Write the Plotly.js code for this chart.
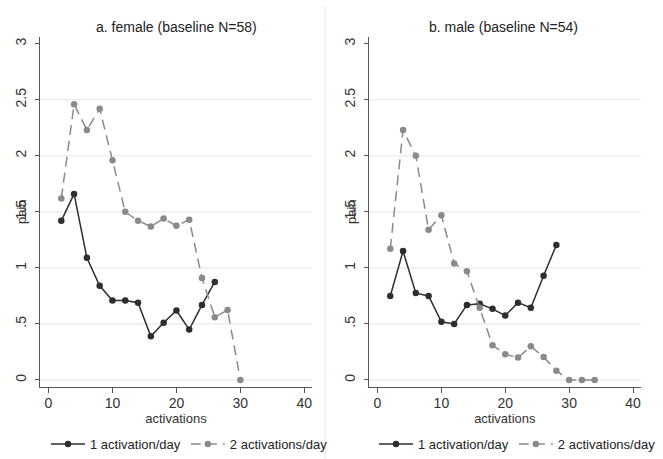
<!DOCTYPE html>
<html>
<head>
<meta charset="utf-8">
<script src="https://cdn.plot.ly/plotly-3.0.1.min.js"></script>
<style>html,body{margin:0;padding:0;background:#fff;}#chart{width:663px;height:459px;}</style>
</head>
<body>
<div id="chart"></div>
<script>
// ---- data ----
const activations = [2,4,6,8,10,12,14,16,18,20,22,24,26,28,30,32,34];

const femaleOnce = [1.42,1.66,1.09,0.84,0.71,0.71,0.69,0.39,0.51,0.62,0.45,0.67,0.875];
const femaleTwice = [1.62,2.46,2.23,2.42,1.96,1.50,1.42,1.37,1.44,1.375,1.43,0.91,0.56,0.625,0];
const maleOnce = [0.75,1.15,0.775,0.75,0.52,0.50,0.67,0.68,0.635,0.575,0.69,0.645,0.93,1.205];
const maleTwice = [1.17,2.23,2.0,1.34,1.47,1.04,0.97,0.645,0.31,0.23,0.20,0.30,0.205,0.083,0,0,0];

const seriesNames = ['1 activation/day', '2 activations/day'];
const panelTitles = ['a. female (baseline N=58)', 'b. male (baseline N=54)'];
const yTickVals = [0,0.5,1,1.5,2,2.5,3];
const yTickText = ['0','.5','1','1.5','2','2.5','3'];
const xTickVals = [0,10,20,30,40];
const gridVals = [0,0.5,1,1.5,2,2.5];

// ---- styles ----
const W = 663, H = 459;
const PUSH = 5;               // bottom margin the legend pushes
const PH = H - PUSH;          // plot-area height in px
const py = px => 1 - px / PH; // px from top -> paper fraction
const dark = '#2e2e2e', grey = '#8a8a8a';
const font = 'Liberation Sans, Arial, Helvetica, sans-serif';

function once(xs, ys, xa, ya, leg) {
  return {x: xs.slice(0, ys.length), y: ys, xaxis: xa, yaxis: ya, legend: leg,
    type: 'scatter', mode: 'lines+markers', name: seriesNames[0],
    line: {color: dark, width: 1.5}, marker: {color: dark, size: 6.5}};
}
function twice(xs, ys, xa, ya, leg) {
  return {x: xs.slice(0, ys.length), y: ys, xaxis: xa, yaxis: ya, legend: leg,
    type: 'scatter', mode: 'lines+markers', name: seriesNames[1],
    line: {color: grey, width: 1.5, dash: '10px,6px'}, marker: {color: grey, size: 6.5}};
}

const traces = [
  once(activations, femaleOnce, 'x', 'y', 'legend'),
  twice(activations, femaleTwice, 'x', 'y', 'legend'),
  once(activations, maleOnce, 'x2', 'y2', 'legend2'),
  twice(activations, maleTwice, 'x2', 'y2', 'legend2')
];

const xRange = [-1.33, 41.2];
const yRange = [-0.0625, 3.06];
const yDom = [py(387), py(37)];

function xAxis(dom, anchor) {
  return {domain: dom, anchor: anchor, range: xRange, tickvals: xTickVals,
    showgrid: false, zeroline: false, showline: true, linecolor: '#555', linewidth: 1,
    ticks: 'outside', ticklen: 5, tickcolor: '#555', ticklabelstandoff: -2,
    tickfont: {family: font, size: 14, color: '#333'},
    title: {text: 'activations', font: {family: font, size: 13, color: '#333'}, standoff: 1}};
}
function yAxis(anchor) {
  return {domain: yDom, anchor: anchor, range: yRange, tickvals: yTickVals, ticktext: yTickText,
    tickangle: -90, showgrid: false, zeroline: false, showline: true, linecolor: '#555', linewidth: 1,
    ticks: 'outside', ticklen: 4, tickcolor: '#555', ticklabelstandoff: 3,
    tickfont: {family: font, size: 14, color: '#333'}};
}

const shapes = [];
['x', 'x2'].forEach((xa, i) => {
  gridVals.forEach(v => shapes.push({type: 'line', layer: 'below', xref: xa + ' domain', x0: 0, x1: 1,
    yref: (i === 0 ? 'y' : 'y2'), y0: v, y1: v, line: {color: '#e3e3e3', width: 1}}));
});
shapes.push({type: 'line', xref: 'paper', yref: 'paper', x0: 325/W, x1: 325/W, y0: py(H), y1: py(6),
  line: {color: '#e6e6e6', width: 1}});

const annotations = [
  {text: panelTitles[0], x: 176/W, y: py(27)},
  {text: panelTitles[1], x: 503/W, y: py(27)},
].map(a => Object.assign(a, {xref: 'paper', yref: 'paper', showarrow: false, xanchor: 'center', yanchor: 'middle',
  font: {family: font, size: 14, color: '#222'}}));
[21/W, 351/W].forEach(x => annotations.push({text: 'pain', x: x, y: py(212), xref: 'paper', yref: 'paper',
  showarrow: false, textangle: -90, xanchor: 'center', yanchor: 'middle', font: {family: font, size: 13, color: '#333'}}));

function legend(x) {
  return {orientation: 'h', x: x, xanchor: 'left', y: py(H), yanchor: 'bottom',
    font: {family: font, size: 13, color: '#222'}, bgcolor: 'rgba(0,0,0,0)', borderwidth: 0,
    itemwidth: 34, tracegroupgap: 0};
}

const layout = {
  width: W, height: H, margin: {l: 0, r: 0, t: 0, b: 0},
  paper_bgcolor: '#fff', plot_bgcolor: '#fff',
  font: {family: font},
  xaxis: xAxis([40/W, 312/W], 'y'), yaxis: yAxis('x'),
  xaxis2: xAxis([369/W, 640.7/W], 'y2'), yaxis2: yAxis('x2'),
  showlegend: true,
  legend: legend(46/W), legend2: legend(374/W),
  shapes: shapes, annotations: annotations
};

Plotly.newPlot('chart', traces, layout, {staticPlot: true, displayModeBar: false});
</script>
</body>
</html>
